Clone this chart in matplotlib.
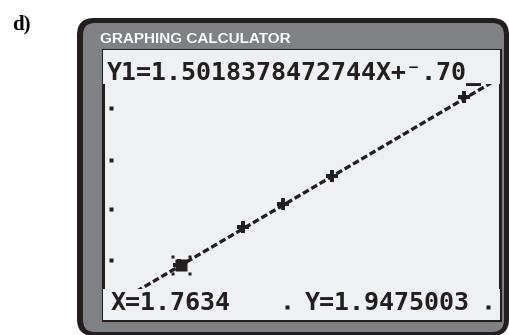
import numpy as np
import matplotlib
matplotlib.use("Agg")
import matplotlib.pyplot as plt
from matplotlib.patches import FancyBboxPatch, Rectangle
from matplotlib.path import Path

# regression from the calculator and the traced point
slope = 1.5018378472744
trace_x = 1.7634
trace_y = 1.9475003
intercept = trace_y - slope * trace_x

# scatter data plotted with the fit
data_x = [1.76, 1.92, 2.02, 2.14, 2.47]
data_y = [1.95, 2.19, 2.34, 2.52, 3.02]

# tick dots left visible on the screen
left_ticks_x = [1.59, 1.59, 1.59, 1.59]
left_ticks_y = [2.95, 2.62, 2.31, 1.98]
bottom_ticks_x = [2.03, 2.53]
bottom_ticks_y = [1.68, 1.68]

window_x = (1.57, 2.56)
window_y = (1.60, 3.32)

top_line = "Y1=1.5018378472744X+\u207b.70_"
x_label = "X=1.7634"
y_label = "Y=1.9475003"

DARK = "#231f20"
GRAY = "#7f8184"
SCREEN = "#eff0f1"

W, H, DPI = 510, 335, 100
fig = plt.figure(figsize=(W / DPI, H / DPI), dpi=DPI)
fig.patch.set_facecolor("white")
inch = fig.dpi_scale_trans


def px(x, y):
    # pixel position (from top-left) to inches
    return x / DPI, (H - y) / DPI


# calculator body
x0, y0 = px(77, 336)
x1, y1 = px(509, 18)
fig.patches.append(FancyBboxPatch((x0, y0), x1 - x0, y1 - y0,
                                  boxstyle="round,pad=0,rounding_size=0.17",
                                  fc=DARK, ec="none", transform=inch, zorder=0))
x0, y0 = px(83, 332)
x1, y1 = px(504, 23)
fig.patches.append(FancyBboxPatch((x0, y0), x1 - x0, y1 - y0,
                                  boxstyle="round,pad=0,rounding_size=0.12",
                                  fc=GRAY, ec="none", transform=inch, zorder=0))

fig.text(*px(100, 43), "GRAPHING CALCULATOR", transform=inch,
         family="Liberation Sans", weight="bold", fontsize=11,
         color="white", va="baseline", ha="left")
fig.text(*px(12, 29), "d)", transform=inch, family="Liberation Serif",
         weight="bold", fontsize=15, color="black", va="baseline")

# screen
ax = fig.add_axes([103 / W, 1 - 320 / H, 397 / W, 270 / H])
ax.set_zorder(2)
ax.set_facecolor(SCREEN)
for s in ax.spines.values():
    s.set_color(DARK)
    s.set_linewidth(2.2)
ax.set_xticks([])
ax.set_yticks([])
ax.set_xlim(*window_x)
ax.set_ylim(*window_y)

line_x = np.array(window_x)
ax.plot(line_x, slope * line_x + intercept, color=DARK, lw=2.4,
        dashes=(2.0, 0.9), solid_capstyle="butt", dash_capstyle="butt", zorder=2)
ax.plot(data_x, data_y, ls="none", marker="P", ms=8.5, mfc=DARK, mec=DARK,
        mew=0, zorder=3)

# trace cursor: filled square plus four corner pixels
ax.plot([trace_x], [trace_y], ls="none", marker="s", ms=8.6, mfc=DARK,
        mec="none", zorder=4)
corner = [(-1.0, -1.0), (-0.71, -1.0), (-0.71, -0.71), (-1.0, -0.71), (-1.0, -1.0)]
verts, codes = [], []
for sx, sy in [(1, 1), (1, -1), (-1, 1), (-1, -1)]:
    verts += [(sx * a, sy * b) for a, b in corner]
    codes += [Path.MOVETO] + [Path.LINETO] * 3 + [Path.CLOSEPOLY]
ax.plot([trace_x], [trace_y], ls="none", marker=Path(verts, codes), ms=15.1,
        mfc=DARK, mec="none", zorder=4)

ax.plot(left_ticks_x, left_ticks_y, ls="none", marker="s", ms=2.8,
        mfc=DARK, mec="none", zorder=3)

# text rows are cleared before text is drawn
ax.add_patch(Rectangle((0, (320 - 84) / 270), 1, 84 / 270, transform=ax.transAxes,
                       fc=SCREEN, ec="none", zorder=5))
ax.add_patch(Rectangle((0, 0), 1, 31 / 270, transform=ax.transAxes,
                       fc=SCREEN, ec="none", zorder=5))
ax.plot(bottom_ticks_x, bottom_ticks_y, ls="none", marker="s", ms=2.8,
        mfc=DARK, mec="none", zorder=6)

mono = dict(transform=inch, family="DejaVu Sans Mono", weight="bold",
            fontsize=18, color=DARK, va="baseline", ha="left", zorder=7)
fig.text(*px(107, 80), top_line, **mono)
fig.text(*px(111, 310), x_label, **mono)
fig.text(*px(305, 310), y_label, **mono)

fig.savefig("out.png", dpi=DPI, facecolor="white")
